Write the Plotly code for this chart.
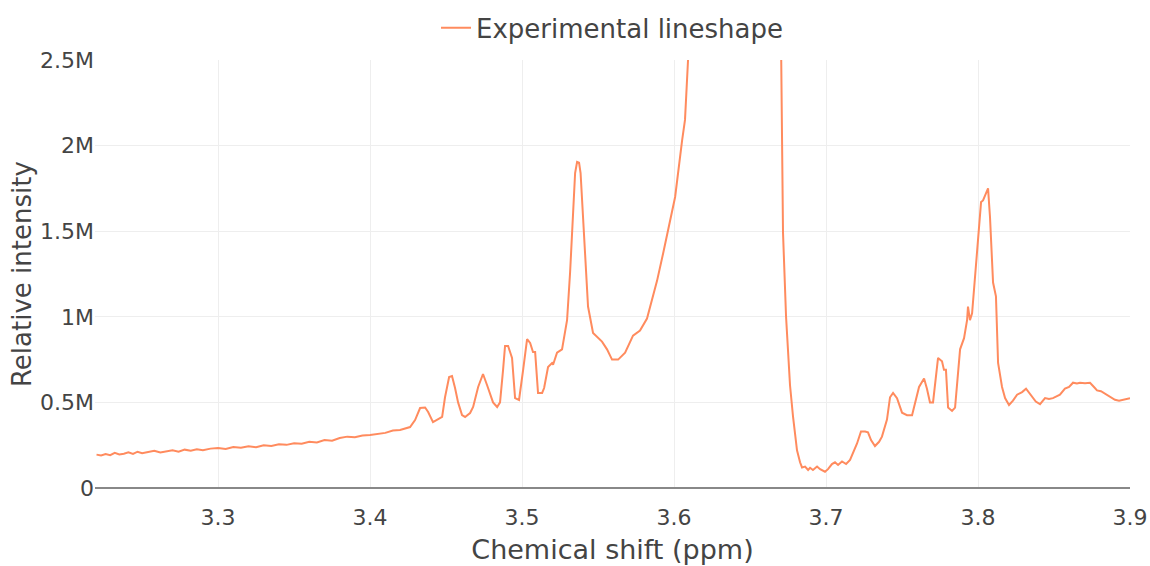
import plotly.graph_objects as go
import numpy as np

# Chemical shift (ppm), 10 points per row
ppm = [
    3.2200, 3.2230, 3.2260, 3.2290, 3.2320, 3.2350, 3.2380, 3.2410, 3.2440, 3.2470,
    3.2500, 3.2540, 3.2580, 3.2620, 3.2660, 3.2700, 3.2740, 3.2780, 3.2820, 3.2860,
    3.2900, 3.2950, 3.3000, 3.3050, 3.3100, 3.3150, 3.3200, 3.3250, 3.3300, 3.3350,
    3.3400, 3.3450, 3.3500, 3.3550, 3.3600, 3.3650, 3.3700, 3.3750, 3.3800, 3.3850,
    3.3900, 3.3950, 3.4000, 3.4050, 3.4100, 3.4150, 3.4197, 3.4263, 3.4296, 3.4329,
    3.4362, 3.4382, 3.4414, 3.4474, 3.4493, 3.4520, 3.4539, 3.4559, 3.4579, 3.4605,
    3.4625, 3.4658, 3.4678, 3.4711, 3.4743, 3.4770, 3.4789, 3.4809, 3.4836, 3.4855,
    3.4875, 3.4888, 3.4908, 3.4934, 3.4954, 3.4980, 3.5007, 3.5033, 3.5053, 3.5072,
    3.5086, 3.5105, 3.5132, 3.5145, 3.5171, 3.5197, 3.5204, 3.5230, 3.5263, 3.5296,
    3.5316, 3.5336, 3.5349, 3.5362, 3.5375, 3.5385, 3.5395, 3.5414, 3.5434, 3.5467,
    3.5526, 3.5559, 3.5592, 3.5632, 3.5678, 3.5730, 3.5776, 3.5822, 3.5888, 3.5928,
    3.5987, 3.6007, 3.6053, 3.6072, 3.6092, 3.6150, 3.6250, 3.6400, 3.6550, 3.6650,
    3.6704, 3.6711, 3.6717, 3.6737, 3.6750, 3.6763, 3.6783, 3.6796, 3.6809, 3.6829,
    3.6842, 3.6862, 3.6882, 3.6895, 3.6914, 3.6941, 3.6961, 3.6993, 3.7013, 3.7039,
    3.7059, 3.7079, 3.7105, 3.7132, 3.7158, 3.7204, 3.7230, 3.7257, 3.7276, 3.7296,
    3.7322, 3.7349, 3.7368, 3.7401, 3.7421, 3.7441, 3.7467, 3.7500, 3.7533, 3.7566,
    3.7586, 3.7612, 3.7645, 3.7664, 3.7684, 3.7704, 3.7737, 3.7763, 3.7776, 3.7789,
    3.7803, 3.7829, 3.7849, 3.7882, 3.7908, 3.7928, 3.7934, 3.7947, 3.7961, 3.7993,
    3.8020, 3.8033, 3.8066, 3.8079, 3.8099, 3.8118, 3.8132, 3.8158, 3.8178, 3.8204,
    3.8230, 3.8257, 3.8290, 3.8316, 3.8355, 3.8380, 3.8408, 3.8441, 3.8467, 3.8493,
    3.8539, 3.8572, 3.8599, 3.8625, 3.8651, 3.8671, 3.8704, 3.8737, 3.8763, 3.8783,
    3.8809, 3.8836, 3.8868, 3.8901, 3.8928, 3.8954, 3.9000,
]

# Relative intensity (millions), same row layout as ppm
intensity_m = [
    0.195, 0.190, 0.198, 0.192, 0.205, 0.196, 0.200, 0.208, 0.199, 0.212,
    0.203, 0.210, 0.218, 0.207, 0.214, 0.221, 0.212, 0.224, 0.218, 0.226,
    0.220, 0.230, 0.234, 0.228, 0.240, 0.235, 0.244, 0.238, 0.250, 0.246,
    0.256, 0.252, 0.262, 0.258, 0.270, 0.266, 0.280, 0.276, 0.292, 0.300,
    0.296, 0.306, 0.310, 0.318, 0.322, 0.336, 0.339, 0.356, 0.397, 0.467,
    0.470, 0.444, 0.385, 0.415, 0.530, 0.648, 0.654, 0.584, 0.500, 0.426,
    0.415, 0.438, 0.473, 0.590, 0.666, 0.600, 0.555, 0.500, 0.473, 0.500,
    0.690, 0.830, 0.830, 0.760, 0.525, 0.514, 0.690, 0.870, 0.847, 0.794,
    0.794, 0.555, 0.555, 0.584, 0.707, 0.730, 0.720, 0.790, 0.810, 0.980,
    1.260, 1.640, 1.840, 1.905, 1.900, 1.840, 1.680, 1.350, 1.060, 0.905,
    0.855, 0.810, 0.750, 0.750, 0.790, 0.890, 0.920, 0.990, 1.210, 1.370,
    1.620, 1.700, 2.030, 2.150, 2.500, 3.300, 5.000, 7.800, 5.500, 3.200,
    2.600, 2.030, 1.490, 1.000, 0.770, 0.600, 0.415, 0.300, 0.220, 0.150,
    0.120, 0.125, 0.105, 0.118, 0.105, 0.125, 0.110, 0.095, 0.110, 0.140,
    0.150, 0.135, 0.155, 0.140, 0.164, 0.260, 0.330, 0.330, 0.325, 0.280,
    0.245, 0.270, 0.300, 0.400, 0.530, 0.555, 0.525, 0.440, 0.425, 0.425,
    0.500, 0.590, 0.640, 0.580, 0.500, 0.500, 0.760, 0.740, 0.690, 0.690,
    0.470, 0.450, 0.470, 0.810, 0.875, 0.980, 1.060, 0.980, 1.020, 1.390,
    1.670, 1.680, 1.750, 1.580, 1.200, 1.120, 0.730, 0.590, 0.525, 0.485,
    0.510, 0.545, 0.560, 0.580, 0.530, 0.505, 0.490, 0.525, 0.520, 0.525,
    0.545, 0.580, 0.590, 0.615, 0.610, 0.615, 0.612, 0.615, 0.590, 0.570,
    0.565, 0.550, 0.530, 0.515, 0.510, 0.515, 0.525,
]

assert len(ppm) == len(intensity_m)
intensity = np.array(intensity_m) * 1e6

x_ticks = [3.3, 3.4, 3.5, 3.6, 3.7, 3.8, 3.9]

fig = go.Figure()
fig.add_trace(go.Scatter(
    x=ppm, y=intensity, mode="lines", name="Experimental lineshape",
    line=dict(color="#ff8b5e", width=2),
))

fig.update_layout(
    width=1150, height=566,
    template="none",
    paper_bgcolor="white", plot_bgcolor="white",
    font=dict(family="DejaVu Sans", color="#444", size=22),
    margin=dict(l=95, r=20, t=60, b=78, autoexpand=False),
    showlegend=True,
    legend=dict(orientation="h", x=0.5, xanchor="center", y=1.075, yanchor="middle",
                font=dict(size=26)),
    xaxis=dict(
        title=dict(text="Chemical shift (ppm)", font=dict(size=27), standoff=11),
        range=[3.219, 3.9], tickvals=x_ticks,
        showgrid=True, gridcolor="#eeeeee", gridwidth=1,
        zeroline=False, showline=False, ticks="", ticklabelstandoff=14,
        automargin=False,
    ),
    yaxis=dict(
        range=[0, 2.5e6], dtick=5e5,
        showgrid=True, gridcolor="#eeeeee", gridwidth=1,
        zeroline=True, zerolinecolor="#888888", zerolinewidth=2,
        showline=False, ticks="", automargin=False,
    ),
    annotations=[dict(
        text="Relative intensity", xref="paper", yref="paper",
        x=-0.0705, y=0.5, xanchor="center", yanchor="middle",
        textangle=-90, showarrow=False, font=dict(size=26, color="#444"),
    )],
)

fig.write_html("out.html")
